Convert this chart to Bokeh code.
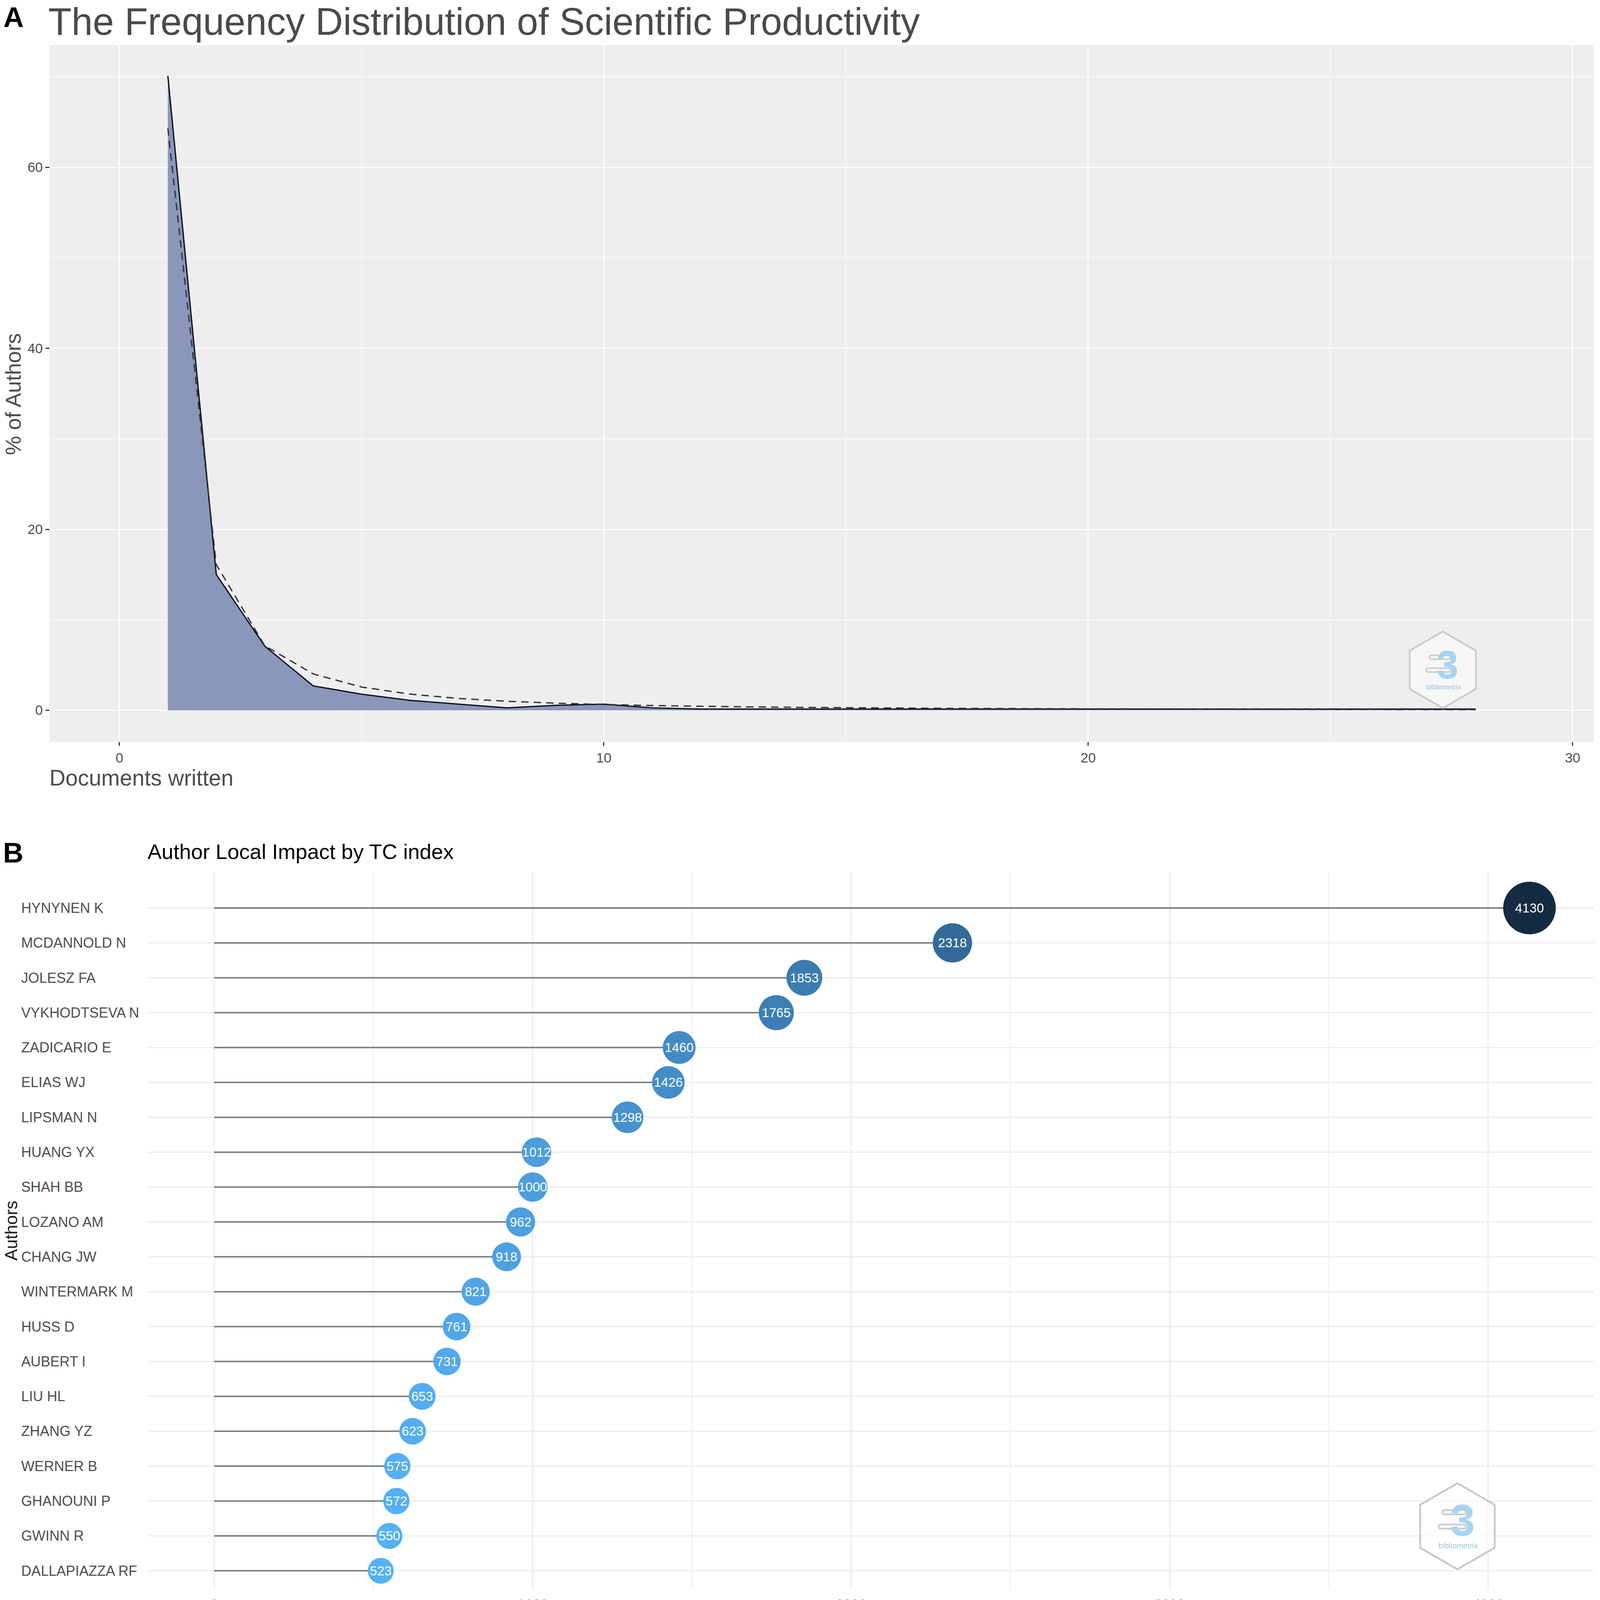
import math
from bokeh.plotting import figure
from bokeh.models import Range1d, SingleIntervalTicker, FixedTicker, Title
from bokeh.core.properties import value
from bokeh.embed import file_html
from bokeh.resources import INLINE

FONT = "Liberation Sans"
K = 4096 / 4317.0          # reference pixels -> CSS pixels


def c(v):
    return v * K


def fs(v):
    return "%.1fpx" % (v * K)


# ---------------- Panel A data (Lotka's law) ----------------
docs_written = [1, 2, 3, 4, 5, 6, 7, 8, 9, 10, 11, 12, 13, 14, 15, 17, 19, 21, 24, 28]
pct_observed = [70.1, 15.0, 7.1, 2.7, 1.78, 1.10, 0.68, 0.27, 0.55, 0.68, 0.27,
                0.14, 0.14, 0.14, 0.14, 0.14, 0.14, 0.14, 0.14, 0.14]
pct_theoretical = [64.3, 16.1, 7.14, 4.02, 2.57, 1.79, 1.31, 1.00, 0.79, 0.64, 0.53,
                   0.45, 0.38, 0.33, 0.29, 0.22, 0.18, 0.15, 0.11, 0.08]
x_tick_step_a = 10
y_tick_step_a = 20

# ---------------- Panel B data (Author local impact) ----------------
authors = ["HYNYNEN K", "MCDANNOLD N", "JOLESZ FA", "VYKHODTSEVA N", "ZADICARIO E",
           "ELIAS WJ", "LIPSMAN N", "HUANG YX", "SHAH BB", "LOZANO AM", "CHANG JW",
           "WINTERMARK M", "HUSS D", "AUBERT I", "LIU HL", "ZHANG YZ", "WERNER B",
           "GHANOUNI P", "GWINN R", "DALLAPIAZZA RF"]
tc_values = [4130, 2318, 1853, 1765, 1460, 1426, 1298, 1012, 1000, 962, 918,
             821, 761, 731, 653, 623, 575, 572, 550, 523]
x_ticks_b = [0, 1000, 2000, 3000, 4000]
x_minor_b = [500, 1500, 2500, 3500]


# ---------------- colour scale (ggplot-like Lab gradient) ----------------
def _hex_to_rgb(h):
    return [int(h[i:i + 2], 16) / 255.0 for i in (1, 3, 5)]


def _to_lin(v):
    return v / 12.92 if v <= 0.04045 else ((v + 0.055) / 1.055) ** 2.4


def _from_lin(v):
    v = min(max(v, 0.0), 1.0)
    return 12.92 * v if v <= 0.0031308 else 1.055 * v ** (1 / 2.4) - 0.055


_WHITE = (0.95047, 1.0, 1.08883)


def _f(t):
    return t ** (1 / 3) if t > 0.008856 else 7.787 * t + 16 / 116


def _finv(t):
    return t ** 3 if t ** 3 > 0.008856 else (t - 16 / 116) / 7.787


def _rgb_to_lab(h):
    r, g, b = [_to_lin(v) for v in _hex_to_rgb(h)]
    X = 0.4124 * r + 0.3576 * g + 0.1805 * b
    Y = 0.2126 * r + 0.7152 * g + 0.0722 * b
    Z = 0.0193 * r + 0.1192 * g + 0.9505 * b
    fx, fy, fz = _f(X / _WHITE[0]), _f(Y / _WHITE[1]), _f(Z / _WHITE[2])
    return (116 * fy - 16, 500 * (fx - fy), 200 * (fy - fz))


def _lab_to_hex(L, a, bb):
    fy = (L + 16) / 116
    fx = fy + a / 500
    fz = fy - bb / 200
    X, Y, Z = _finv(fx) * _WHITE[0], _finv(fy) * _WHITE[1], _finv(fz) * _WHITE[2]
    r = 3.2406 * X - 1.5372 * Y - 0.4986 * Z
    g = -0.9689 * X + 1.8758 * Y + 0.0415 * Z
    b = 0.0557 * X - 0.2040 * Y + 1.0570 * Z
    return "#%02x%02x%02x" % tuple(int(round(_from_lin(v) * 255)) for v in (r, g, b))


LOW_COL, HIGH_COL = _rgb_to_lab("#56B1F7"), _rgb_to_lab("#132B43")
vmin, vmax = min(tc_values), max(tc_values)


def tc_color(v):
    t = (v - vmin) / (vmax - vmin)
    return _lab_to_hex(*[lo + (hi - lo) * t for lo, hi in zip(LOW_COL, HIGH_COL)])


def tc_size(v):
    return c(70 + 72 * (v - vmin) / (vmax - vmin))


def add_logo(p, cx, cy, sx, sy, k):
    """bibliometrix watermark; offsets given in reference px"""
    def X(dx):
        return cx + c(dx) * k / sx

    def Y(dy):
        return cy - c(dy) * k / sy
    p.scatter([cx], [cy], marker="hex", size=c(232) * k, angle=math.pi / 2,
              fill_color="white", fill_alpha=0.55, line_color="#C9C9C9", line_width=c(5) * k)
    x0 = [X(-35), X(-45)]
    x1 = [X(17), X(17)]
    yy = [Y(-38), Y(1)]
    p.segment(x0=x0, y0=yy, x1=x1, y1=yy, line_color="#C8C8C8", line_width=c(16) * k, line_cap="round")
    p.segment(x0=x0, y0=yy, x1=x1, y1=yy, line_color="#F4F4F4", line_width=c(8) * k, line_cap="round")
    p.text([X(14)], [Y(-16)], text=["3"], text_font=value(FONT), text_font_style="bold",
           text_font_size=value("%.1fpx" % (c(120) * k)), text_color="#A6D5F2",
           text_align="center", text_baseline="middle")
    p.text([X(2)], [Y(52)], text=["bibliometrix"], text_font=value(FONT),
           text_font_size=value("%.1fpx" % (c(21) * k)), text_color="#A3C4DC",
           text_align="center", text_baseline="middle")


def strip(width, height):
    """text-only strip (headers / footer), coordinates in CSS px from its top-left"""
    h = figure(width=width, height=height, x_range=Range1d(0, width), y_range=Range1d(height, 0),
               output_backend="svg", toolbar_location=None,
               x_axis_location=None, y_axis_location=None,
               min_border_left=0, min_border_right=0, min_border_top=0, min_border_bottom=0)
    h.grid.grid_line_color = None
    h.outline_line_color = None
    h.background_fill_color = "white"
    h.border_fill_color = "white"
    return h


def put_text(fig, x_css, baseline_css, top_css, txt, size_ref, color, bold=False, align="left"):
    """place text so that its alphabetic baseline lands on baseline_css (page CSS px)"""
    size = c(size_ref)
    fig.text([x_css - 8], [baseline_css - 0.35 * size - top_css], text=[txt], text_font=value(FONT),
             text_font_style="bold" if bold else "normal", text_font_size=value("%.1fpx" % size),
             text_color=color, text_align=align, text_baseline="middle")


W = 4080
TOTAL = 4177

# ====================== Header A ======================
HHA = 115
hA = strip(W, HHA)
put_text(hA, c(17), c(81), 8, "A", 76, "black", bold=True)
put_text(hA, c(138), 97, 8, "The Frequency Distribution of Scientific Productivity", 103, "#4A4A4A")

# ====================== Panel A ======================
FHA = 1784
HA = FHA + 138
xa0, xa1 = -1.445, 30.44
ya0, ya1 = -3.5, 73.5
pA = figure(width=W, height=HA, x_range=Range1d(xa0, xa1), y_range=Range1d(ya0, ya1),
            output_backend="svg", toolbar_location=None,
            min_border_left=122, min_border_right=0, min_border_top=0, min_border_bottom=HA - FHA)
pA.background_fill_color = "#EEEEEE"
pA.border_fill_color = "white"
pA.outline_line_color = None

tkx = SingleIntervalTicker(interval=x_tick_step_a, num_minor_ticks=2)
tky = SingleIntervalTicker(interval=y_tick_step_a, num_minor_ticks=2)
pA.xaxis.ticker = tkx
pA.yaxis.ticker = tky
pA.xgrid.ticker = tkx
pA.ygrid.ticker = tky
for g in (pA.xgrid, pA.ygrid):
    g.grid_line_color = "white"
    g.grid_line_width = c(2.8)
    g.minor_grid_line_color = "white"
    g.minor_grid_line_width = c(1.4)
for ax in (pA.xaxis, pA.yaxis):
    ax.axis_line_color = None
    ax.major_tick_line_color = "#333333"
    ax.major_tick_line_width = c(3)
    ax.major_tick_out = int(round(c(11)))
    ax.major_tick_in = 0
    ax.minor_tick_line_color = None
    ax.major_label_text_font = FONT
    ax.major_label_text_font_size = fs(37)
    ax.major_label_text_color = "#4D4D4D"
pA.xaxis.major_label_standoff = 18
pA.yaxis.major_label_standoff = int(round(c(7)))
pA.yaxis.axis_label = "% of Authors"
pA.yaxis.axis_label_text_font = FONT
pA.yaxis.axis_label_text_font_size = fs(58)
pA.yaxis.axis_label_text_font_style = "normal"
pA.yaxis.axis_label_text_color = "#4D4D4D"
pA.yaxis.axis_label_standoff = 2
pA.add_layout(Title(text="Documents written", align="left", offset=0, standoff=4,
                    text_font=FONT, text_font_size=fs(60), text_font_style="normal",
                    text_color="#4D4D4D"), "below")

pA.varea(x=docs_written, y1=0, y2=pct_observed, fill_color="#8A97BB")
pA.line(docs_written, pct_observed, line_color="#0A0F24", line_width=c(3.5))
pA.line(docs_written, pct_theoretical, line_color="#333333", line_width=c(3.5), line_dash="19 13")

sxA = (W - 122) / (xa1 - xa0)
syA = FHA / (ya1 - ya0)
add_logo(pA, 27.32, 4.48, sxA, syA, 0.89)

# ====================== Header B ======================
y_hb = 8 + HHA + HA                 # css y of header B top
FB_TOP = round(c(2361))
HHB = FB_TOP - y_hb
hB = strip(W, HHB)
put_text(hB, c(16), c(2335), y_hb, "B", 76, "black", bold=True)
put_text(hB, c(406), c(2325), y_hb, "Author Local Impact by TC index", 57, "black")

# ====================== Panel B ======================
FHB = round(c(1935))
BB = 67                             # space under panel B for the tick labels
HB = FHB + BB
HFB = TOTAL - (HHA + HA + HHB + HB)
frame_left_b = 58                   # css x of frame left
px_per_tc = c(0.8597)
zero_b = c(584)
xb0 = (frame_left_b - zero_b) / px_per_tc
xb1 = (W + 8 - zero_b) / px_per_tc
yb0, yb1 = 0.47, 21.03
panel_left_b = -207.0
rows = [len(authors) - i for i in range(len(authors))]

pB = figure(width=W, height=HB, x_range=Range1d(xb0, xb1), y_range=Range1d(yb0, yb1),
            output_backend="svg", toolbar_location=None,
            min_border_left=frame_left_b - 8, min_border_right=0,
            min_border_top=0, min_border_bottom=BB)
pB.background_fill_color = "white"
pB.border_fill_color = "white"
pB.outline_line_color = None

tkb = FixedTicker(ticks=x_ticks_b, minor_ticks=x_minor_b)
pB.xaxis.ticker = tkb
pB.xgrid.ticker = tkb
pB.xgrid.grid_line_color = "#EBEBEB"
pB.xgrid.grid_line_width = c(3)
pB.xgrid.minor_grid_line_color = "#EBEBEB"
pB.xgrid.minor_grid_line_width = c(2)
pB.ygrid.visible = False
pB.yaxis.ticker = FixedTicker(ticks=[])
for ax in (pB.xaxis, pB.yaxis):
    ax.axis_line_color = None
    ax.major_tick_line_color = None
    ax.minor_tick_line_color = None
    ax.major_tick_out = 0
    ax.major_tick_in = 0
    ax.major_label_text_font = FONT
    ax.major_label_text_font_size = fs(37)
    ax.major_label_text_color = "#4D4D4D"
pB.xaxis.major_label_standoff = 22
pB.yaxis.major_label_standoff = 0
pB.yaxis.axis_label = "Authors"
pB.yaxis.axis_label_text_font = FONT
pB.yaxis.axis_label_text_font_size = fs(47)
pB.yaxis.axis_label_text_font_style = "normal"
pB.yaxis.axis_label_text_color = "#1A1A1A"
pB.yaxis.axis_label_standoff = 0

# row grid lines (panel area only)
pB.segment(x0=[panel_left_b] * len(rows), y0=rows, x1=[xb1 + 100] * len(rows), y1=rows,
           line_color="#EBEBEB", line_width=c(3))
# lollipop stems, bubbles and values
pB.segment(x0=[0] * len(rows), y0=rows, x1=tc_values, y1=rows, line_color="#7A7A7A", line_width=c(4))
pB.scatter(x=tc_values, y=rows, size=[tc_size(v) for v in tc_values],
           fill_color=[tc_color(v) for v in tc_values], line_color=None)
pB.text(x=tc_values, y=rows, text=[str(v) for v in tc_values], text_font=value(FONT),
        text_font_size=value(fs(35)), text_color="white", text_align="center",
        text_baseline="middle")
# author names (left aligned like the reference)
name_x = (c(63) - zero_b) / px_per_tc
pB.text(x=[name_x] * len(rows), y=rows, text=authors, text_font=value(FONT),
        text_font_size=value(fs(38)), text_color="#4D4D4D", text_align="left",
        text_baseline="middle")

syB = FHB / (yb1 - yb0)
add_logo(pB, (3940 - 584) / 0.8597, 1 + c(4246 - 4126) / syB, px_per_tc, syB, 1.0)

# ====================== Footer B (x axis title) ======================
y_fb = 8 + HHA + HA + HHB + HB
fB = strip(W, HFB)
put_text(fB, c(2362), c(4399), y_fb, "Impact Measure: TC", 47, "#1A1A1A", align="center")

open("out.html", "w").write(file_html([hA, pA, hB, pB, fB], INLINE))
